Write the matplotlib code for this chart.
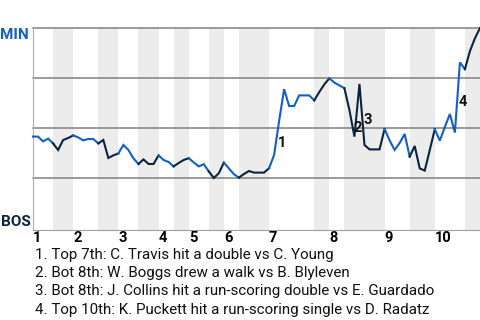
import matplotlib
matplotlib.use("Agg")
import matplotlib.pyplot as plt

plt.rcParams['font.family'] = ['Roboto', 'DejaVu Sans']

# MIN win probability after each plate appearance (0 = BOS wins, 1 = MIN wins)
win_prob = [0.457, 0.457, 0.433, 0.447, 0.423, 0.390, 0.440, 0.450, 0.463, 0.453,
            0.438, 0.445, 0.445, 0.423, 0.440, 0.350, 0.363, 0.373, 0.415, 0.390,
            0.348, 0.320, 0.343, 0.320, 0.320, 0.363, 0.340, 0.330, 0.308, 0.325,
            0.340, 0.349, 0.328, 0.308, 0.319, 0.283, 0.250, 0.274, 0.327, 0.298,
            0.269, 0.252, 0.270, 0.285, 0.277, 0.277, 0.277, 0.299, 0.365, 0.535,
            0.694, 0.610, 0.610, 0.663, 0.663, 0.663, 0.638, 0.680, 0.718, 0.748,
            0.727, 0.713, 0.699, 0.590, 0.457, 0.720, 0.415, 0.393, 0.393, 0.393,
            0.495, 0.438, 0.390, 0.425, 0.470, 0.357, 0.410, 0.298, 0.287, 0.390,
            0.494, 0.437, 0.505, 0.570, 0.477, 0.828, 0.794, 0.885, 0.949, 1.000]

# plate appearance index where each half inning starts (top 1st, bot 1st, ...)
half_starts = [0, 4, 8, 13, 17, 21, 25, 28, 31, 35, 38, 41, 47, 56, 59, 62, 70, 75, 80, 86]
innings = ["1", "2", "3", "4", "5", "6", "7", "8", "9", "10"]

# key plays: (label, plate appearance index)
events = [("1", 49), ("2", 64), ("3", 66), ("4", 85)]
notes = [
    "1. Top 7th: C. Travis hit a double vs C. Young",
    "2. Bot 8th: W. Boggs drew a walk vs B. Blyleven",
    "3. Bot 8th: J. Collins hit a run-scoring double vs E. Guardado",
    "4. Top 10th: K. Puckett hit a run-scoring single vs D. Radatz",
]

min_color = "#1160c4"
bos_color = "#0c2340"

n = len(win_prob) - 1
fig = plt.figure(figsize=(4.8, 3.2), dpi=100)
ax = fig.add_axes([33 / 480, 90 / 320, 447 / 480, 202 / 320])

# shaded bottom halves + line coloured by batting team
bounds = half_starts + [n]
for h in range(len(half_starts)):
    a, b = bounds[h], bounds[h + 1]
    if h % 2 == 1:
        ax.axvspan(a, b, color="#ececec", lw=0, zorder=0)
    col = min_color if h % 2 == 0 else bos_color
    ax.plot(range(a, b + 1), win_prob[a:b + 1], color=col, lw=1.5,
            solid_joinstyle="miter", zorder=3, clip_on=False)

for g in [0.25, 0.5, 0.75, 1.0]:
    ax.axhline(g, color="#808080", lw=1.1, zorder=1, clip_on=False)

for lab, i in events:
    mid = (win_prob[i - 1] + win_prob[i]) / 2
    ax.annotate(lab, (i, mid), xytext=(2.0, -3.6), textcoords="offset points",
                ha="center", va="center", fontsize=10.5, fontweight="bold",
                color="#111111", zorder=4)

ax.set_xlim(0, n)
ax.set_ylim(-0.01, 1.0)
ax.set_yticks([])
ax.set_xticks(half_starts[::2])
ax.set_xticklabels(innings, fontsize=10.5, fontweight="bold", ha="left")
ax.tick_params(axis="x", length=0, pad=1.0)
for s in ["top", "right"]:
    ax.spines[s].set_visible(False)
ax.spines["left"].set_color("#b0b0b0")
ax.spines["bottom"].set_color("#a0a0a0")

fig.text(29 / 480, 1 - 28 / 320, "MIN", ha="right", va="top", fontsize=11,
         fontweight="bold", color=min_color)
fig.text(31 / 480, 1 - 226 / 320, "BOS", ha="right", va="baseline", fontsize=11,
         fontweight="bold", color=bos_color)

for k, t in enumerate(notes):
    fig.text(35 / 480, 1 - (259 + 18.2 * k) / 320, t, ha="left",
             va="baseline", fontsize=10.9, color="#111111")

fig.savefig("out.png", dpi=100)
